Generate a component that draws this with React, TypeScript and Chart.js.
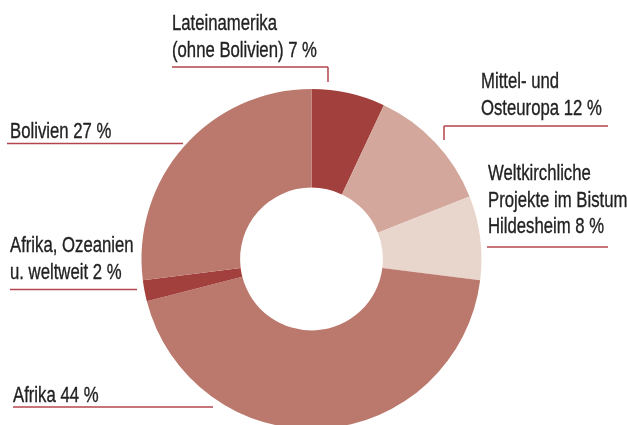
import React, { useEffect, useRef } from "react";
import { Chart, registerables } from "chart.js";

Chart.register(...registerables);

const categories = [
  "Lateinamerika (ohne Bolivien)",
  "Mittel- und Osteuropa",
  "Weltkirchliche Projekte im Bistum Hildesheim",
  "Afrika",
  "Afrika, Ozeanien u. weltweit",
  "Bolivien",
];
const shares = [7, 12, 8, 44, 2, 27];
const labelLines = [
  ["Lateinamerika", "(ohne Bolivien) 7 %"],
  ["Mittel- und", "Osteuropa 12 %"],
  ["Weltkirchliche", "Projekte im Bistum", "Hildesheim 8 %"],
  ["Afrika 44 %"],
  ["Afrika, Ozeanien", "u. weltweit 2 %"],
  ["Bolivien 27 %"],
];
const sliceColors = ["#a1403c", "#d3a79b", "#e8d5cc", "#bb796d", "#a1403c", "#bb796d"];

// callout placement: text origin (first baseline), underline, optional tick
const calloutLayout = [
  { x: 172, y: 30, lineY: 67, x1: 172, x2: 328, tickX: 328, tickTo: 82 },
  { x: 481, y: 88, lineY: 126, x1: 444, x2: 608, tickX: 444, tickTo: 140 },
  { x: 488, y: 180, lineY: 247, x1: 487, x2: 608 },
  { x: 13, y: 402, lineY: 407, x1: 13, x2: 213 },
  { x: 10, y: 252, lineY: 289.5, x1: 10, x2: 137 },
  { x: 10, y: 138, lineY: 143.5, x1: 7, x2: 183 },
];

const calloutPlugin = {
  id: "callouts",
  afterDraw(chart: any) {
    const ctx = chart.ctx as CanvasRenderingContext2D;
    const sx = 0.76;
    ctx.save();
    ctx.font = '22px "Liberation Sans", Arial, sans-serif';
    ctx.fillStyle = "#222222";
    ctx.strokeStyle = "#222222";
    ctx.textBaseline = "alphabetic";
    ctx.textAlign = "left";
    labelLines.forEach((lines, i) => {
      const l = calloutLayout[i];
      lines.forEach((t, k) => {
        ctx.save();
        ctx.translate(l.x, l.y + k * 26.7);
        ctx.scale(sx, 1);
        ctx.fillText(t, 0, 0);
        ctx.lineWidth = 0.35;
        ctx.strokeText(t, 0, 0);
        ctx.restore();
      });
    });
    labelLines.forEach((_, i) => {
      const l = calloutLayout[i];
      ctx.strokeStyle = "#b3454d";
      ctx.lineWidth = 1.5;
      ctx.beginPath();
      ctx.moveTo(l.x1, l.lineY);
      ctx.lineTo(l.x2, l.lineY);
      if (l.tickX !== undefined) {
        ctx.moveTo(l.tickX, l.lineY);
        ctx.lineTo(l.tickX, l.tickTo);
      }
      ctx.stroke();
    });
    ctx.restore();
  },
};

export default function App() {
  const ref = useRef<HTMLCanvasElement>(null);
  useEffect(() => {
    const chart = new Chart(ref.current!, {
      type: "doughnut",
      data: {
        labels: categories,
        datasets: [
          {
            data: shares,
            backgroundColor: sliceColors,
            borderWidth: 0,
          },
        ],
      },
      options: {
        responsive: false,
        animation: false,
        devicePixelRatio: 1,
        cutout: "42%",
        layout: { padding: { left: 141.5, right: 145.5, top: 89, bottom: 11 } },
        plugins: { legend: { display: false }, tooltip: { enabled: false } },
      },
      plugins: [calloutPlugin],
    });
    return () => chart.destroy();
  }, []);
  return (
    <div
      style={{
        position: "fixed",
        left: 0,
        top: 0,
        width: 627,
        height: 425,
        overflow: "hidden",
        background: "#fff",
      }}
    >
      <canvas ref={ref} width={627} height={440} style={{ width: 627, height: 440, display: "block" }} />
    </div>
  );
}
